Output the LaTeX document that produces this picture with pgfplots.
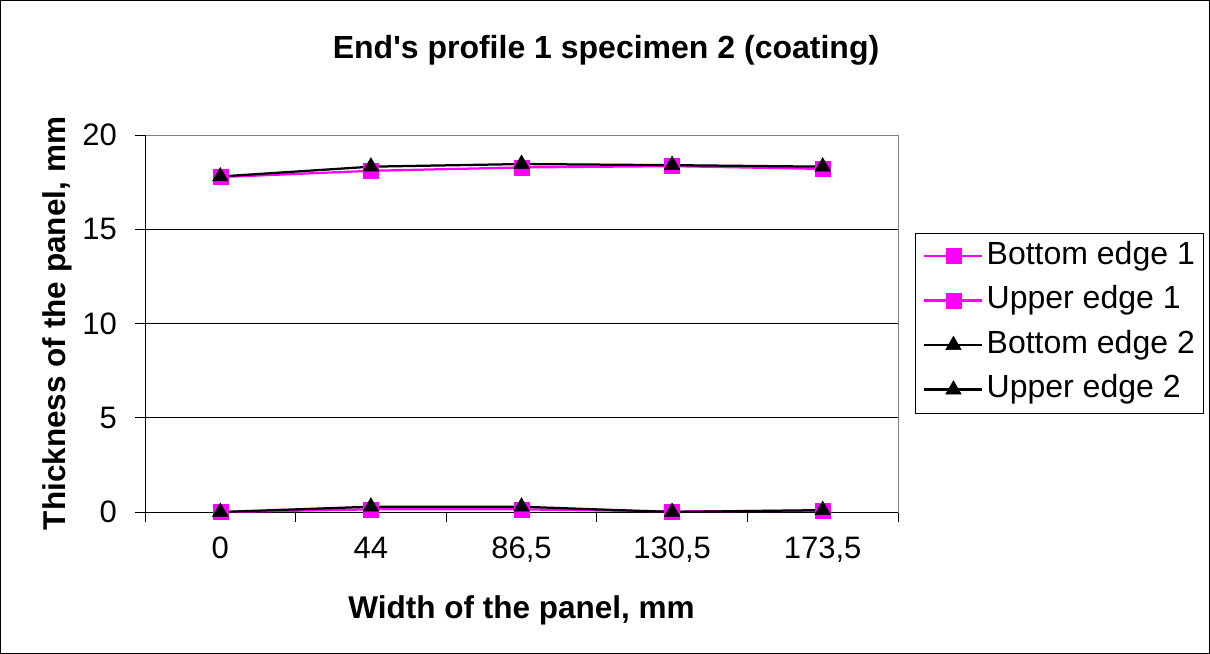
\documentclass[border=0pt]{standalone}
\usepackage{fontspec}
\setmainfont{Liberation Sans}
\usepackage{pgfplots}
\pgfplotsset{compat=1.18}
\definecolor{mag}{RGB}{255,0,255}
\begin{document}
\begin{tikzpicture}
\draw[black, line width=1bp] (0.5bp,-0.5bp) rectangle (1209.5bp,-653.5bp);
\node[font=\fontsize{32bp}{38bp}\selectfont\bfseries] at (606bp,-50bp) {End\textquotesingle s profile 1 specimen 2 (coating)};
\begin{axis}[
 at={(145bp,-512bp)}, anchor=south west,
 width=753bp, height=377bp, scale only axis,
 xmin=-0.5, xmax=4.5, ymin=0, ymax=20,
 clip=false,
 xtick={-0.5,0.5,1.5,2.5,3.5,4.5}, xticklabels={},
 extra x ticks={0,1,2,3,4},
 extra x tick labels={0,44,{86,5},{130,5},{173,5}},
 extra x tick style={major tick length=0pt, grid=none},
 xtick pos=bottom, ytick pos=left,
 ytick={0,5,10,15,20},
 ymajorgrids, grid style={black, line width=0.75bp},
 tick align=outside, major tick length=10bp,
 tick style={black, line width=0.75bp},
 axis line style={draw=gray, line width=0.75bp},
 ticklabel style={font=\fontsize{31bp}{37bp}\selectfont},
 /pgf/number format/assume math mode=true,
 xticklabel style={anchor=north, inner sep=0pt, text height=22bp, text depth=5bp, yshift=-24bp},
 yticklabel style={anchor=east, inner sep=0pt, xshift=-18bp},
 xlabel={Width of the panel, mm},
 ylabel={Thickness of the panel, mm},
 label style={font=\fontsize{31.5bp}{38bp}\selectfont\bfseries},
 xlabel style={at={(rel axis cs:0.5,0)}, anchor=center, yshift=-98bp},
 ylabel style={at={(rel axis cs:0,0.5)}, anchor=center, yshift=88bp},
 legend style={at={(rel axis cs:1.02258,0.74005)}, anchor=north west,
   draw=black, fill=white,
   inner xsep=8bp, inner ysep=9bp, row sep=16.5bp, column sep=3bp,
   font=\fontsize{32bp}{38bp}\selectfont,
   nodes={inner sep=0pt, text height=22bp, text depth=6bp, anchor=west}},
 legend cell align=left,
 legend image code/.code={\draw[line width=2.5bp, mark repeat=2,mark phase=2] plot coordinates {(0bp,0bp)(29bp,0bp)(58bp,0bp)};},
]
\draw[black, line width=0.75bp] (rel axis cs:0,0) -- (rel axis cs:0,1);
\draw[black, line width=0.75bp] (rel axis cs:0,0) -- (rel axis cs:1,0);
\addplot[mag, line width=2.25bp, mark=square*, mark size=7.5bp, mark options={fill=mag, draw=mag, line width=0.5bp}]
 coordinates {(0,0) (1,0.14) (2,0.14) (3,0.03) (4,0.07)};
\addlegendentry{Bottom edge 1}
\addplot[mag, line width=2.25bp, mark=square*, mark size=7.5bp, mark options={fill=mag, draw=mag, line width=0.5bp}]
 coordinates {(0,17.77) (1,18.1) (2,18.28) (3,18.35) (4,18.2)};
\addlegendentry{Upper edge 1}
\addplot[black, line width=2.25bp, mark=triangle*, mark size=9bp, mark options={fill=black, draw=black, line width=0.5bp}]
 coordinates {(0,0) (1,0.28) (2,0.28) (3,0.0) (4,0.1)};
\addlegendentry{Bottom edge 2}
\addplot[black, line width=2.25bp, mark=triangle*, mark size=9bp, mark options={fill=black, draw=black, line width=0.5bp}]
 coordinates {(0,17.8) (1,18.32) (2,18.46) (3,18.4) (4,18.32)};
\addlegendentry{Upper edge 2}
\end{axis}
\end{tikzpicture}
\end{document}
